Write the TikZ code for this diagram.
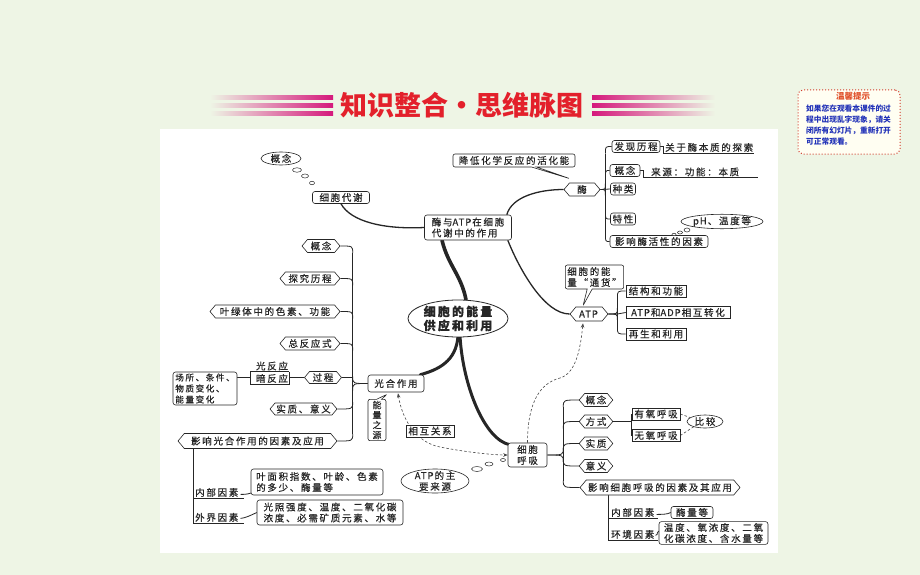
\documentclass[tikz,border=0pt]{standalone}
\usepackage{fontspec}
\setmainfont{Noto Sans CJK SC}
\newfontfamily\cjk[LetterSpace=18,FakeBold=0.5]{Noto Sans CJK SC}
\newfontfamily\cjkn{Noto Sans CJK SC}
\newfontfamily\cjkl[LetterSpace=10,FakeBold=0.5]{Noto Sans CJK SC}
\newcommand\lat[1]{{\cjkl #1\kern1pt}}
\usetikzlibrary{shapes.geometric,shapes.symbols,shapes.callouts,calc,arrows.meta}
\pgfdeclarelayer{back}
\pgfdeclarelayer{lines}
\pgfsetlayers{back,lines,main}
\definecolor{bgc}{HTML}{EEF5E5}
\definecolor{titred}{HTML}{E3202B}
\definecolor{mag}{HTML}{D5197C}
\definecolor{notered}{HTML}{D23A2A}
\definecolor{noteor}{HTML}{E0502A}
\definecolor{noteblue}{HTML}{2232B8}
\definecolor{notefill}{HTML}{FFFEF2}
\definecolor{ink}{HTML}{262626}
\tikzset{
  >={Stealth[length=4.5pt,width=3.5pt]},
  base/.style={font=\cjk\fontsize{9.5}{11}\selectfont, text=ink, draw=ink, line width=0.6pt, inner xsep=2pt, inner ysep=1.5pt, fill=white},
  rbox/.style={base, rectangle, rounded corners=2.5pt, minimum height=12pt},
  sbox/.style={base, rectangle, minimum height=12pt},
  hexa/.style={base, signal, signal to=west and east, signal pointer angle=100, minimum height=13pt, inner xsep=1pt},
  ovl/.style={base, ellipse, inner sep=0pt},
  txt/.style={font=\cjk\fontsize{9.5}{11}\selectfont, text=ink, inner sep=1pt},
  bub/.style={draw=ink, line width=0.5pt, ellipse, inner sep=0pt, fill=white},
  link/.style={draw=ink, line width=0.8pt},
  midl/.style={draw=ink, line width=1.3pt},
  thk/.style={draw=ink, line width=3pt, line cap=round},
  dsh/.style={draw=ink!85, line width=0.6pt, dash pattern=on 2.5pt off 2pt},
  call/.style={base, rectangle callout, rounded corners=2pt, callout pointer width=5pt}
}
\newcommand\brc[3]{\draw[link] ($(#2 -| #1)+(0,#3)$) .. controls (#2 -| #1) .. (#2);}
\begin{document}
\begin{tikzpicture}[x=1pt,y=-1pt]
\begin{pgfonlayer}{back}
\fill[bgc] (0,0) rectangle (920,575);
\fill[white] (160,129) rectangle (778,553);
\end{pgfonlayer}
\useasboundingbox (0,0) rectangle (920,575);

% ---------- title ----------
\foreach \yy in {97.5,105.5,113.5}{
  \shade[left color=bgc, right color=mag] (210,\yy-1.6) rectangle (333,\yy+1.6);
  \shade[left color=mag, right color=bgc] (592,\yy-1.6) rectangle (715,\yy+1.6);
}
\node[font=\cjkn\bfseries\fontsize{27}{27}\selectfont, text=titred, inner sep=0pt] (title) at (462,105) {知识整合・思维脉图};

% ---------- note ----------
\node[draw=notered, dotted, line width=1pt, fill=notefill, rounded corners=5pt, minimum width=102pt, minimum height=64pt] (note) at (849,122) {};
\node[font=\cjkn\bfseries\fontsize{8.5}{9}\selectfont, text=noteor, inner sep=0pt] (notet) at (853,96) {温馨提示};
\node[font=\cjkn\bfseries\fontsize{7.7}{11}\selectfont, text=noteblue, align=left, anchor=north west, inner sep=0pt] (noteb) at (806,105) {如果您在观看本课件的过\\程中出现乱字现象，请关\\闭所有幻灯片，重新打开\\可正常观看。};

% ---------- top left ----------
\node[ovl, minimum width=40pt, minimum height=13pt] (gn1) at (281,158.5) {概念};
\node[bub, minimum width=9pt, minimum height=4.5pt] (b1) at (297,170) {};
\node[bub, minimum width=7pt, minimum height=4pt] (b2) at (305,176) {};
\node[bub, minimum width=5pt, minimum height=3.5pt] (b3) at (312,183) {};
\node[rbox, minimum width=57pt] (xd) at (341,197.5) {细胞代谢};
\node[rbox, align=left, minimum width=87pt, minimum height=25pt] (ma) at (468,227.5) {酶与\lat{ATP}在细胞\\代谢中的作用};
\node[ovl, font=\cjk\bfseries\fontsize{12}{14}\selectfont, align=center, inner xsep=-3pt, inner ysep=0pt, minimum width=100pt, minimum height=37pt, line width=0.8pt] (ce) at (458,318.5) {细胞的能量\\供应和利用};

% ---------- enzyme ----------
\node[hexa, minimum width=36pt] (mz) at (582,189.5) {酶};
\node[call, minimum width=122pt, minimum height=13pt, callout absolute pointer={($(mz.north)+(-12,-4)$)}] (jd) at (514,160.5) {降低化学反应的活化能};
\node[rbox, minimum width=48pt] (fx) at (636,146.5) {发现历程};
\node[txt, anchor=south west] (fxt) at (664,153) {关于酶本质的探索};
\node[rbox, minimum width=30pt] (gn3) at (625,170.5) {概念};
\node[txt, anchor=south west] (gnt) at (650,177.5) {来源：功能：本质};
\node[rbox, minimum width=25pt] (zl) at (623,189) {种类};
\node[rbox, minimum width=25pt] (tx) at (623,219) {特性};
\node[rbox, minimum width=98pt] (yx) at (659,241.5) {影响酶活性的因素};
\node[ovl, minimum width=65pt, minimum height=14pt] (ph) at (722,221.5) {\lat{pH}、温度等};
\node[bub, minimum width=6pt, minimum height=4pt] (pb1) at (687,230) {};
\node[bub, minimum width=5pt, minimum height=3pt] (pb2) at (680,232.5) {};
\node[bub, minimum width=4pt, minimum height=2.5pt] (pb3) at (674,234.5) {};

% ---------- ATP ----------
\node[hexa, minimum width=38pt, minimum height=14pt] (atp) at (589,314) {\lat{ATP}};
\node[call, align=left, minimum width=57pt, minimum height=24pt, callout absolute pointer={($(atp.north)+(-6,-1)$)}] (tb) at (594.5,277) {细胞的能\\量“通货”};
\node[sbox, minimum width=104pt] (zh) at (678,312.5) {\lat{ATP}和\lat{ADP}相互转化};
\node[sbox, minimum width=60pt] (jg) at (656,291) {结构和功能};
\node[sbox, minimum width=60pt] (zs) at (656,334) {再生和利用};

% ---------- photosynthesis ----------
\node[hexa, minimum width=38pt] (g1) at (321,246) {概念};
\node[hexa, minimum width=60pt] (g2) at (310,278.5) {探究历程};
\node[hexa, minimum width=130pt] (g3) at (275,311.5) {叶绿体中的色素、功能};
\node[hexa, minimum width=60pt] (g4) at (310,343.5) {总反应式};
\node[hexa, minimum width=37pt, minimum height=12pt] (g5) at (323,377.5) {过程};
\node[hexa, minimum width=67pt, minimum height=12pt] (g6) at (303.5,409) {实质、意义};
\node[hexa, minimum width=159pt, minimum height=15pt] (g7) at (257.5,441) {影响光合作用的因素及应用};
\node[rbox, minimum width=56pt, minimum height=17pt] (gh) at (396,383.5) {光合作用};
\node[txt] (gfy) at (272,366) {光反应};
\node[txt] (afy) at (272,378.5) {暗反应};
\node[rbox, align=left, font=\cjk\fontsize{8.6}{11}\selectfont, minimum width=64pt, minimum height=33pt] (cb) at (205,388.5) {场所、条件、\\物质变化、\\能量变化};
\node[call, font=\cjkl\fontsize{9}{10}\selectfont, align=center, inner xsep=1.5pt, minimum width=18pt, minimum height=40pt, callout absolute pointer={($(gh.south)+(-9,2)$)}] (nl) at (377,420) {能\\量\\之\\源};
\node[txt, anchor=south west] (nb1) at (194,498) {内部因素};
\node[txt, anchor=south west] (wj1) at (194,523) {外界因素};
\node[rbox, align=left, minimum width=132pt, minimum height=26pt] (ym) at (317,482) {叶面积指数、叶龄、色素\\的多少、酶量等};
\node[rbox, align=left, minimum width=146pt, minimum height=25pt] (gz) at (330,512.5) {光照强度、温度、二氧化碳\\浓度、必需矿质元素、水等};

% ---------- respiration ----------
\node[rbox, align=center, minimum width=39pt, minimum height=24pt] (hx) at (527.5,455) {细胞\\呼吸};
\node[ovl, align=center, inner xsep=-2pt, inner ysep=-4pt, minimum width=68pt, minimum height=24pt] (zy) at (435,481) {\lat{ATP}的主\\要来源};
\node[bub, minimum width=11pt, minimum height=5pt] (zb1) at (477,469) {};
\node[bub, minimum width=8pt, minimum height=4pt] (zb2) at (489,464) {};
\node[bub, minimum width=5pt, minimum height=3pt] (zb3) at (503,460) {};
\node[hexa, minimum width=32pt] (r1) at (596,400) {概念};
\node[hexa, minimum width=32pt] (r2) at (596,421.5) {方式};
\node[hexa, minimum width=32pt] (r3) at (596,443.5) {实质};
\node[hexa, minimum width=32pt] (r4) at (596,466) {意义};
\node[hexa, minimum width=160pt, minimum height=15pt] (r5) at (660,487.5) {影响细胞呼吸的因素及其应用};
\node[sbox, minimum width=48pt] (yy) at (656,414) {有氧呼吸};
\node[sbox, minimum width=48pt] (wy) at (656,435.5) {无氧呼吸};
\node[ovl, minimum width=36pt, minimum height=13pt] (bj) at (705,421.5) {比较};
\node[txt, anchor=south west] (nb2) at (610,518) {内部因素};
\node[txt, anchor=south west] (hj2) at (610,540) {环境因素};
\node[rbox, minimum width=42pt] (ml) at (692,512.5) {酶量等};
\node[rbox, align=left, minimum width=109pt, minimum height=22pt] (wd) at (713.5,533) {温度、氧浓度、二氧\\化碳浓度、含水量等};

\node[sbox, minimum width=48pt] (xg) at (430,431) {相互关系};

% ---------- connectors ----------
\begin{pgfonlayer}{lines}
% main thick
\draw[thk, line width=3.6pt] ($(ma.south)+(-26,0)$) .. controls +(6,25) and +(-5,-25) .. ($(ce.north)+(8,0)$);
\draw[thk] ($(ce.south)+(0,-1)$) .. controls +(-2,25) and +(18,-5) .. ($(gh.north east)+(-4,0)$);
\draw[thk] ($(ce.south)+(2,-1)$) .. controls +(3,50) and +(-25,-5) .. ($(hx.north west)+(2,2)$);
% medium
\draw[midl] (xd.south) .. controls +(10,18) and +(-40,2) .. (ma.west);
\draw[midl] ($(ma.north east)+(-5,0)$) .. controls +(5,-18) and +(-25,0) .. (mz.west);
\draw[midl] ($(ma.south east)+(-4,0)$) .. controls +(12,30) and +(-25,0) .. (atp.west);

% enzyme tree
\coordinate (sp2) at ($(mz.east)+(5,0)$);
\draw[link] ($(fx.west -| sp2)+(0,7)$) -- ($(yx.west -| sp2)+(0,-7)$);
\brc{sp2}{fx.west}{7}
\brc{sp2}{gn3.west}{7}
\brc{sp2}{tx.west}{-7}
\brc{sp2}{yx.west}{-7}
\draw[link] (mz.east) -- (zl.west);
\brc{sp2}{mz.east}{6}
\brc{sp2}{mz.east}{-6}
\draw[link] (fx.east) -- ++(3,0) |- (fxt.south east);
\draw[link] (gn3.east) -- ++(3,0) |- ($(gnt.south east)+(18,0)$);

% ATP tree
\coordinate (sp3) at ($(atp.east)+(9,0)$);
\draw[link] ($(jg.west -| sp3)+(0,7)$) -- ($(zs.west -| sp3)+(0,-7)$);
\brc{sp3}{jg.west}{7}
\brc{sp3}{zs.west}{-7}
\draw[link] (atp.east) -- (atp.east -| sp3) -- (zh.west);
\brc{sp3}{atp.east}{6}
\brc{sp3}{atp.east}{-6}

% photosynthesis tree
\coordinate (sp1) at ($(gh.west)+(-15,0)$);
\draw[link] ($(g1.east -| sp1)+(0,7)$) -- ($(g7.east -| sp1)+(0,-7)$);
\brc{sp1}{g1.east}{7}
\brc{sp1}{g2.east}{7}
\brc{sp1}{g3.east}{7}
\brc{sp1}{g4.east}{7}
\draw[link] (g5.east) -- (g5.east -| sp1);
\brc{sp1}{g6.east}{-7}
\brc{sp1}{g7.east}{-7}
\brc{sp1}{gh.west}{7}
\brc{sp1}{gh.west}{-7}
\coordinate (lb) at ($(gfy.south west)+(-4,0)$);
\draw[link] (gfy.south east) -- (lb) |- (afy.south east) -- (gfy.south east);
\draw[link] (g5.west) -- (g5.west -| afy.east);
\draw[link] (lb |- g5.west) -- (cb.east |- g5.west);
\coordinate (lt1) at ($(g7.south)+(-64.5,0)$);
\draw[link] (lt1) |- ($(wj1.south east)+(4,0)$);
\draw[link] (lt1 |- nb1.south) -- ($(nb1.south east)+(4,0)$);
\draw[link] ($(nb1.east)+(1,2)$) .. controls +(4,0) and +(-3,3) .. ($(ym.south west)+(3,-4)$);
\draw[link] ($(wj1.east)+(1,1)$) .. controls +(4,0) and +(-4,2) .. (gz.west);

% respiration tree
\coordinate (sp4) at ($(hx.east)+(16,0)$);
\draw[link] ($(r1.west -| sp4)+(0,7)$) -- ($(r5.west -| sp4)+(0,-7)$);
\brc{sp4}{r1.west}{7}
\brc{sp4}{r2.west}{7}
\brc{sp4}{r3.west}{7}
\brc{sp4}{r4.west}{-7}
\brc{sp4}{r5.west}{-7}
\brc{sp4}{hx.east}{7}
\brc{sp4}{hx.east}{-7}
\draw[link] (r2.east) -- (r2.east -| yy.west);
\draw[link] (yy.west) -- (wy.west);
\draw[dsh] (yy.east) -- (bj.165);
\draw[dsh] (wy.east) -- (bj.205);
\coordinate (lt2) at ($(r5.south)+(-52,0)$);
\draw[link] (lt2) |- ($(hj2.south east)+(2,0)$);
\draw[link] (lt2 |- nb2.south) -- ($(nb2.south east)+(2,0)$);
\draw[link] ($(nb2.east)+(1,2)$) .. controls +(4,0) and +(-3,2) .. (ml.west);
\draw[link] ($(hj2.east)+(0,1)$) .. controls +(3,0) and +(-3,3) .. ($(wd.west)+(0,-2)$);

% dashed relations
\coordinate (wp1) at (560,378);
\draw[dsh, ->] (hx.north) .. controls +(0,-40) and +(-20,5) .. (wp1) .. controls +(18,-5) and +(-2,18) .. ($(atp.south)+(-6,2)$);
\coordinate (wp2) at (440,447);
\draw[dsh, <->] ($(gh.south)+(2,1)$) .. controls +(4,25) and +(-25,-5) .. (wp2) .. controls +(25,5) and +(-15,0) .. (hx.west);
\end{pgfonlayer}
\end{tikzpicture}
\end{document}
